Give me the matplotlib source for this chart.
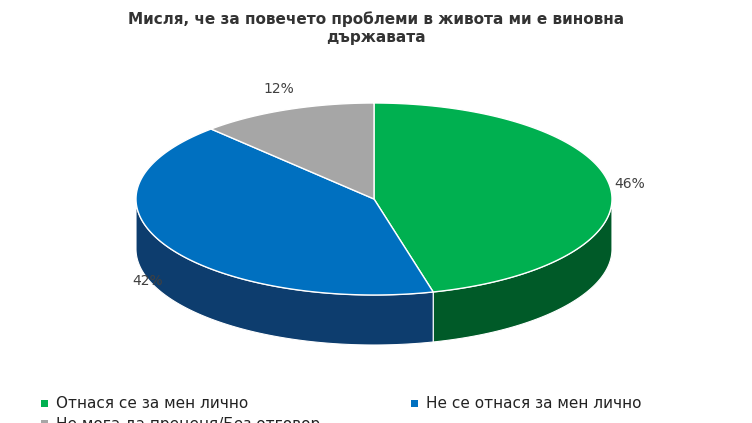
import numpy as np
import matplotlib.pyplot as plt
from matplotlib.patches import Polygon

title = "Мисля, че за повечето проблеми в живота ми е виновна\nдържавата"
labels = ["Отнася се за мен лично", "Не се отнася за мен лично", "Не мога да преценя/Без отговор"]
values = [46, 42, 12]
top_cols = ["#00b050", "#0070c0", "#a6a6a6"]
side_cols = ["#005a28", "#0d3d6e", "#6e6e6e"]

cx, cy, rx, ry, depth = 374, 199, 238, 96, 50

fig = plt.figure(figsize=(7.52, 4.23), dpi=100)
ax = fig.add_axes([0, 0, 1, 1])
ax.set_xlim(0, 752)
ax.set_ylim(423, 0)
ax.axis("off")

def pt(a):
    return cx + rx * np.cos(a), cy - ry * np.sin(a)

start = np.pi / 2
angles = []
a0 = start
for v in values:
    a1 = a0 - v / 100 * 2 * np.pi
    angles.append((a0, a1))
    a0 = a1

# side walls (front half only)
for (a0, a1), sc in zip(angles, side_cols):
    t = np.linspace(a0, a1, 200)
    t = t[np.sin(t) <= 0]
    if len(t) < 2:
        continue
    xs, ys = pt(t)
    poly = list(zip(xs, ys)) + list(zip(xs[::-1], ys[::-1] + depth))
    ax.add_patch(Polygon(poly, closed=True, fc=sc, ec="white", lw=0.8))

# top faces
for (a0, a1), tc in zip(angles, top_cols):
    t = np.linspace(a0, a1, 200)
    xs, ys = pt(t)
    poly = [(cx, cy)] + list(zip(xs, ys))
    ax.add_patch(Polygon(poly, closed=True, fc=tc, ec="white", lw=1))

# percentage labels
for (a0, a1), v in zip(angles, values):
    m = (a0 + a1) / 2
    lx = cx + (rx + 20) * np.cos(m)
    ly = cy - (ry + 22) * np.sin(m) + (depth * 0.5 if np.sin(m) < 0 else 0)
    ax.text(lx, ly, f"{v}%", ha="center", va="center", fontsize=10, color="#404040")

ax.text(376, 28, title, ha="center", va="center", fontsize=11, fontweight="bold",
        color="#333333", linespacing=1.3)

# legend
leg_pos = [(45, 404), (415, 404), (45, 424)]
for (lx, ly), lab, c in zip(leg_pos, labels, top_cols):
    ax.add_patch(plt.Rectangle((lx - 4, ly - 4), 7, 7, fc=c, ec="none"))
    ax.text(lx + 11, ly, lab, ha="left", va="center", fontsize=11, color="#222222")

fig.savefig("out.png", dpi=100)
